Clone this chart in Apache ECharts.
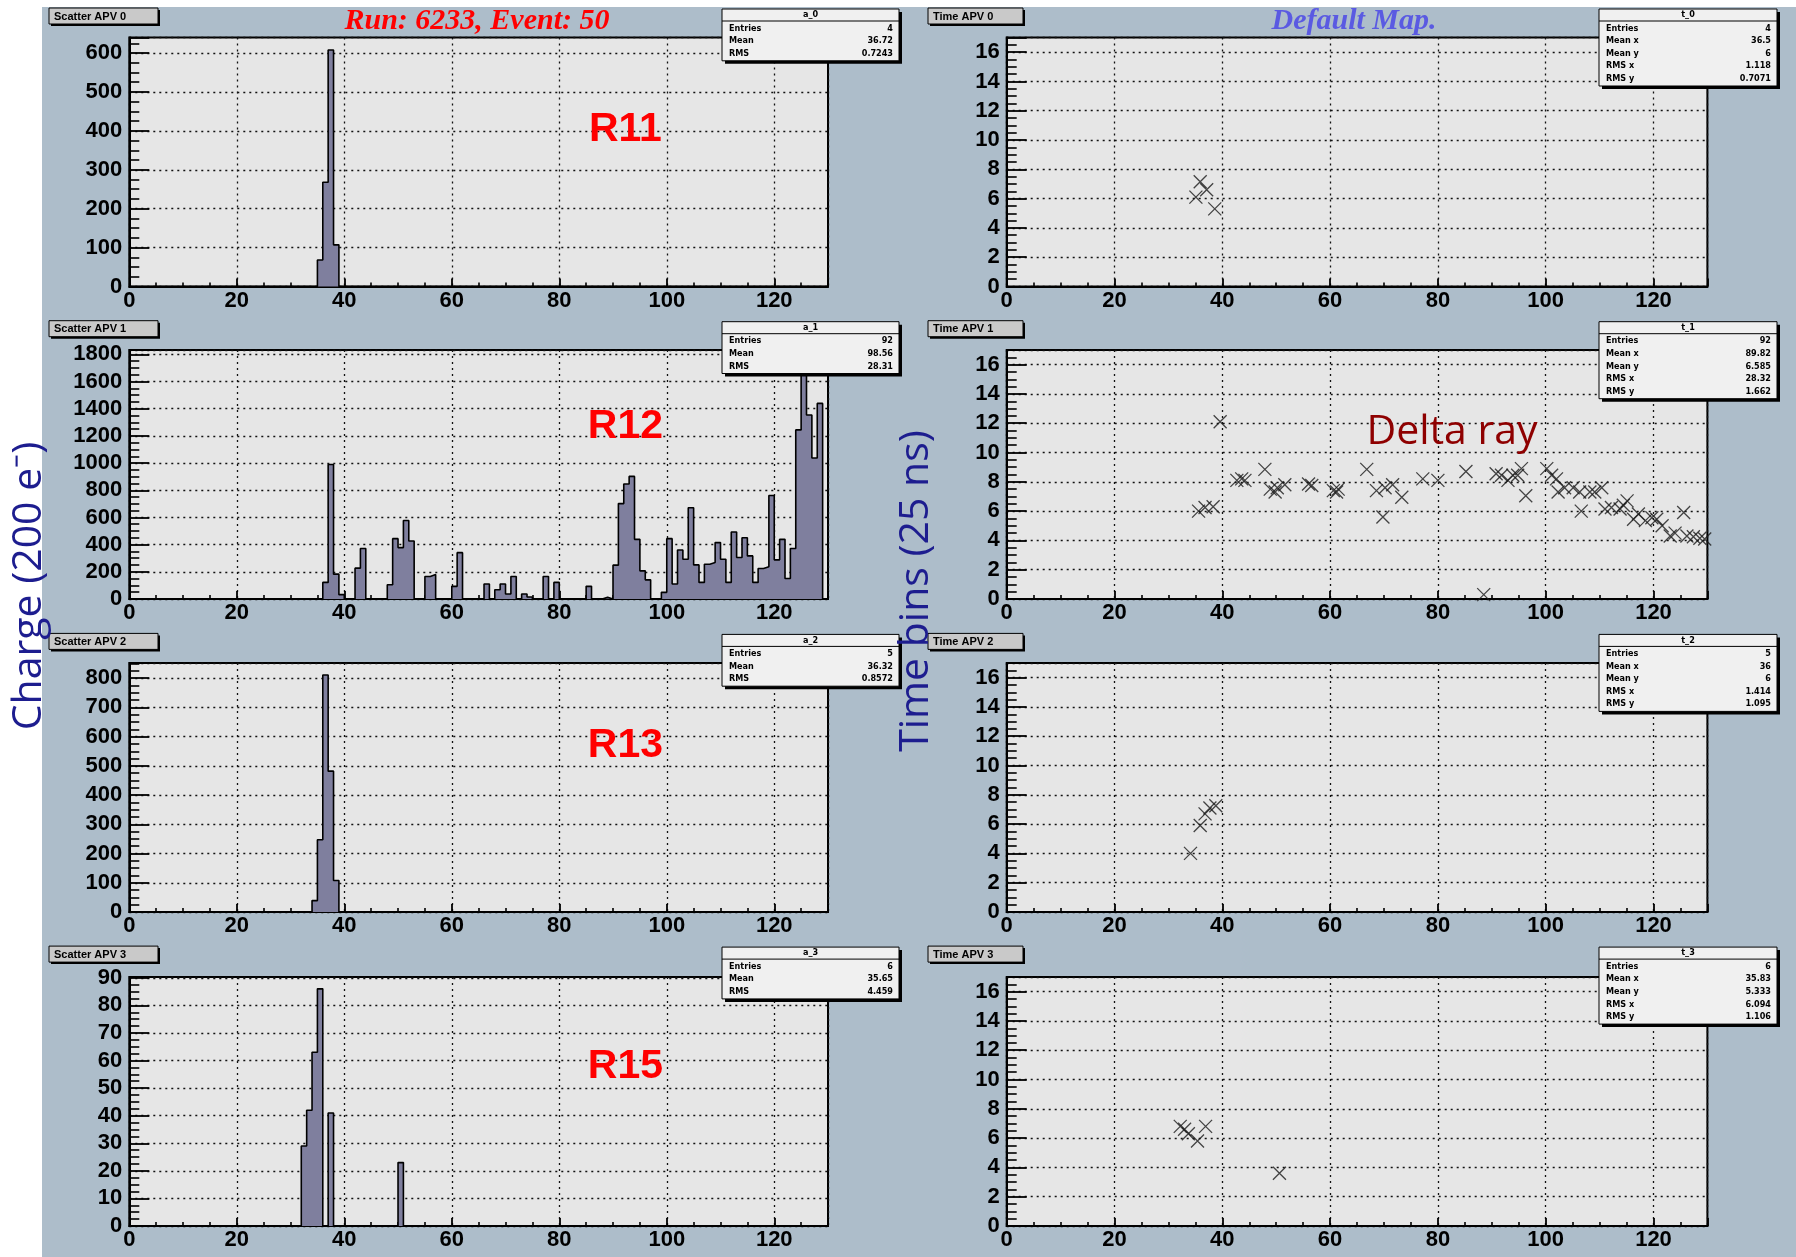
<!DOCTYPE html>
<html>
<head>
<meta charset="utf-8">
<script src="https://cdn.jsdelivr.net/npm/echarts/dist/echarts.min.js"></script>
<style>
  html, body { margin: 0; padding: 0; background: #ffffff; }
  #chart { width: 1796px; height: 1257px; }
</style>
</head>
<body>
<div id="chart"></div>
<script>
// ---- event data: APV charge per strip (channel, charge) and time-bin hits ----
const N_CHANNELS = 130;

const R11_CHARGE = [[35, 68], [36, 268], [37, 608], [38, 107]];
const R12_CHARGE = [
  [36, 122], [37, 990], [38, 183], [39, 32], [42, 227], [43, 371],
  [48, 105], [49, 444], [50, 378], [51, 578], [52, 427], [55, 166], [56, 180],
  [60, 93], [61, 341], [66, 110], [68, 68], [69, 110], [70, 37], [71, 166],
  [73, 37], [74, 15], [77, 166], [79, 122], [85, 93], [88, 12],
  [90, 249], [91, 702], [92, 846], [93, 902], [94, 439], [95, 207], [96, 141],
  [99, 49], [100, 444], [101, 110], [102, 361], [103, 293], [104, 671], [105, 251],
  [106, 122], [107, 256], [108, 268], [109, 415], [110, 293], [111, 122], [112, 493],
  [113, 305], [114, 451], [115, 317], [116, 122], [117, 224], [118, 237], [119, 761],
  [120, 288], [121, 439], [122, 151], [123, 371], [124, 1244], [125, 1745], [126, 1354],
  [127, 1037], [128, 1439]
];
const R13_CHARGE = [[34, 39], [35, 247], [36, 811], [37, 482], [38, 108]];
const R15_CHARGE = [[32, 29], [33, 42], [34, 63], [35, 86], [37, 41], [50, 23]];

const R11_TIME = [[35.9, 7.15], [37.1, 6.6], [35.1, 6.1], [38.6, 5.3]];
const R12_TIME = [
  [39.6, 12.1], [35.6, 6.0], [36.8, 6.25], [38.3, 6.3],
  [42.7, 8.1], [43.6, 8.2], [44.2, 8.1],
  [47.9, 8.85], [48.9, 7.5], [49.8, 7.3], [50.2, 7.6], [51.6, 7.8],
  [56.0, 7.85], [56.6, 7.75], [60.6, 7.4], [61.2, 7.3], [61.5, 7.5],
  [66.8, 8.85], [68.6, 7.4], [70.2, 7.6], [69.8, 5.6], [71.6, 7.8], [73.3, 6.95],
  [77.2, 8.2], [80.0, 8.1], [85.2, 8.7], [88.5, 0.3],
  [90.8, 8.55], [91.8, 8.45], [93.0, 8.1], [93.9, 8.45], [94.8, 8.45], [95.5, 8.9], [96.3, 7.05],
  [100.2, 8.9], [101.1, 8.45], [102.0, 8.2], [102.3, 7.3], [103.5, 7.6], [105.1, 7.6],
  [106.3, 7.3], [106.6, 6.0], [108.2, 7.3], [109.1, 7.3], [110.4, 7.6],
  [111.0, 6.15], [112.2, 6.25], [113.8, 6.15], [114.4, 6.4], [115.1, 6.7],
  [116.3, 5.45], [117.2, 5.8], [118.5, 5.35], [119.7, 5.55], [120.6, 5.45],
  [121.6, 5.0], [123.1, 4.3], [124.0, 4.5], [125.6, 5.9], [126.2, 4.3],
  [127.4, 4.25], [128.6, 4.15], [129.5, 4.1]
];
const R13_TIME = [[34.1, 4.0], [35.9, 5.9], [36.8, 6.7], [37.7, 7.1], [38.8, 7.25]];
const R15_TIME = [[32.2, 6.8], [33.0, 6.6], [33.7, 6.3], [35.4, 5.8], [36.9, 6.8], [50.6, 3.6]];

const CHARGE_SERIES = [R11_CHARGE, R12_CHARGE, R13_CHARGE, R15_CHARGE];
const TIME_SERIES = [R11_TIME, R12_TIME, R13_TIME, R15_TIME];

// axis ranges and tick steps
const X_TICK_STEP = 20;
const CHARGE_MAX = [640, 1832, 852, 90.3];
const CHARGE_TICK_STEP = [100, 200, 100, 10];
const TIME_MAX = 17;
const TIME_TICK_STEP = 2;

// texts
const RUN_TITLE = 'Run: 6233, Event: 50';
const MAP_TITLE = 'Default Map.';
const READOUT_LABELS = ['R11', 'R12', 'R13', 'R15'];
const SCATTER_TITLES = ['Scatter APV 0', 'Scatter APV 1', 'Scatter APV 2', 'Scatter APV 3'];
const TIME_TITLES = ['Time APV 0', 'Time APV 1', 'Time APV 2', 'Time APV 3'];
const CHARGE_STATS = [
  ['a_0', [['Entries', '4'], ['Mean', '36.72'], ['RMS', '0.7243']]],
  ['a_1', [['Entries', '92'], ['Mean', '98.56'], ['RMS', '28.31']]],
  ['a_2', [['Entries', '5'], ['Mean', '36.32'], ['RMS', '0.8572']]],
  ['a_3', [['Entries', '6'], ['Mean', '35.65'], ['RMS', '4.459']]]
];
const TIME_STATS = [
  ['t_0', [['Entries', '4'], ['Mean x', '36.5'], ['Mean y', '6'], ['RMS x', '1.118'], ['RMS y', '0.7071']]],
  ['t_1', [['Entries', '92'], ['Mean x', '89.82'], ['Mean y', '6.585'], ['RMS x', '28.32'], ['RMS y', '1.662']]],
  ['t_2', [['Entries', '5'], ['Mean x', '36'], ['Mean y', '6'], ['RMS x', '1.414'], ['RMS y', '1.095']]],
  ['t_3', [['Entries', '6'], ['Mean x', '35.83'], ['Mean y', '5.333'], ['RMS x', '6.094'], ['RMS y', '1.106']]]
];
const CHARGE_AXIS_NAME = 'Charge (200 e\u207B)';
const TIME_AXIS_NAME = 'Time bins (25 ns)';
const DELTA_LABEL = 'Delta ray';

// ---- layout ----
const PANEL_BG = '#adbdca';
const FRAME_BG = '#e6e6e6';
const ROW_TOPS = [37.5, 350, 663, 977];
const ROW_PITCH = 312.7;
const PLOT_H = 249;
const LEFT_X = 129.3, LEFT_W = 698.7;
const RIGHT_X = 1006.7, RIGHT_W = 700.7;
const AXIS_FONT = '"Liberation Sans", Arial, sans-serif';
const TOP_Z = 50;

// full histogram outline points from sparse (channel, value) pairs
function histogramPoints(pairs) {
  const bins = new Array(N_CHANNELS).fill(0);
  pairs.forEach(([ch, v]) => { bins[ch] = v; });
  const pts = bins.map((v, i) => [i, v]);
  pts.push([N_CHANNELS, 0]);
  return pts;
}

function xAxis(gridIndex) {
  return {
    type: 'value', gridIndex, min: 0, max: N_CHANNELS, interval: X_TICK_STEP,
    axisLine: { show: true, onZero: false, lineStyle: { color: '#000', width: 2 } },
    axisTick: { show: true, inside: true, length: 8, lineStyle: { color: '#000', width: 1.8 } },
    minorTick: { show: true, splitNumber: 4, length: 4, lineStyle: { color: '#000', width: 1.6 } },
    splitLine: { show: true, lineStyle: { color: '#111', width: 1.3, type: [2, 4] } },
    axisLabel: { showMaxLabel: false, color: '#000', fontFamily: AXIS_FONT, fontWeight: 'bold', fontSize: 22, margin: 3,
      formatter: v => String(v) }
  };
}

function yAxis(gridIndex, max, step) {
  return {
    type: 'value', gridIndex, min: 0, max, interval: step,
    axisLine: { show: true, onZero: false, lineStyle: { color: '#000', width: 2 } },
    axisTick: { show: true, inside: true, length: 20, lineStyle: { color: '#000', width: 1.8 } },
    minorTick: { show: true, splitNumber: 4, length: 10, lineStyle: { color: '#000', width: 1.6 } },
    splitLine: { show: true, lineStyle: { color: '#111', width: 1.3, type: [2, 4] } },
    axisLabel: { showMaxLabel: false, color: '#000', fontFamily: AXIS_FONT, fontWeight: 'bold', fontSize: 22, margin: 7,
      formatter: v => String(v) }
  };
}

const grids = [], xAxes = [], yAxes = [], series = [];
for (let k = 0; k < 4; k++) {
  grids.push({ left: LEFT_X, top: ROW_TOPS[k], width: LEFT_W, height: PLOT_H, show: true,
    backgroundColor: FRAME_BG, borderColor: '#000', borderWidth: 2 });
  xAxes.push(xAxis(k));
  yAxes.push(yAxis(k, CHARGE_MAX[k], CHARGE_TICK_STEP[k]));
  series.push({
    type: 'line', xAxisIndex: k, yAxisIndex: k, step: 'end',
    data: histogramPoints(CHARGE_SERIES[k]),
    symbol: 'none', showSymbol: false, silent: true,
    lineStyle: { color: '#000', width: 1.6 },
    areaStyle: { color: '#7f7f9e', opacity: 1 },
    z: 3
  });
}
for (let k = 0; k < 4; k++) {
  const g = 4 + k;
  grids.push({ left: RIGHT_X, top: ROW_TOPS[k], width: RIGHT_W, height: PLOT_H, show: true,
    backgroundColor: FRAME_BG, borderColor: '#000', borderWidth: 2 });
  xAxes.push(xAxis(g));
  yAxes.push(yAxis(g, TIME_MAX, TIME_TICK_STEP));
  series.push({
    type: 'scatter', xAxisIndex: g, yAxisIndex: g,
    data: TIME_SERIES[k],
    symbol: 'path://M0,0L10,10M10,0L0,10', symbolSize: 13, silent: true,
    itemStyle: { color: 'rgba(0,0,0,0)', borderColor: '#1a1a1a', borderWidth: 1.3 },
    z: 3
  });
}

// ROOT style statistics box
function statsBox(x, y, w, name, rows) {
  const headH = 12, rowH = 12.6;
  const h = headH + rows.length * rowH + 2;
  const font = 'bold 9px "DejaVu Sans Condensed", "DejaVu Sans", sans-serif';
  const children = [
    { type: 'rect', z: TOP_Z, shape: { x: x + 3, y: y + 3, width: w, height: h }, style: { fill: '#000' } },
    { type: 'rect', z: TOP_Z, shape: { x, y, width: w, height: h }, style: { fill: '#f0f0f0', stroke: '#000', lineWidth: 1 } },
    { type: 'line', z: TOP_Z, shape: { x1: x, y1: y + headH, x2: x + w, y2: y + headH }, style: { stroke: '#000', lineWidth: 1 } },
    { type: 'text', z: TOP_Z, x: x + w / 2, y: y + headH / 2, style: { text: name, fill: '#000', font, align: 'center', verticalAlign: 'middle' } }
  ];
  rows.forEach(([k, v], i) => {
    const ty = y + headH + rowH * (i + 0.5) + 1;
    children.push({ type: 'text', z: TOP_Z, x: x + 7, y: ty, style: { text: k, fill: '#000', font, align: 'left', verticalAlign: 'middle' } });
    children.push({ type: 'text', z: TOP_Z, x: x + w - 6, y: ty, style: { text: v, fill: '#000', font, align: 'right', verticalAlign: 'middle' } });
  });
  return { type: 'group', children };
}

// pad title label box
function titleBox(x, y, w, text) {
  return {
    type: 'group', children: [
      { type: 'rect', z: TOP_Z, shape: { x: x + 2, y: y + 2, width: w, height: 16 }, style: { fill: '#000' } },
      { type: 'rect', z: TOP_Z, shape: { x, y, width: w, height: 16 }, style: { fill: '#c9c9c9', stroke: '#000', lineWidth: 1 } },
      { type: 'text', z: TOP_Z, x: x + 5, y: y + 8.5, style: { text, fill: '#000', font: 'bold 11px "Liberation Sans", Arial, sans-serif', align: 'left', verticalAlign: 'middle' } }
    ]
  };
}

const graphics = [
  { type: 'rect', z: -10, shape: { x: 0, y: 0, width: 42, height: 1257 }, style: { fill: '#ffffff' } },
  { type: 'rect', z: -10, shape: { x: 0, y: 0, width: 1796, height: 7 }, style: { fill: '#ffffff' } }
];
for (let k = 0; k < 4; k++) {
  const dy = ROW_PITCH * k;
  graphics.push(titleBox(49, 8 + dy, 109, SCATTER_TITLES[k]));
  graphics.push(titleBox(928, 8 + dy, 95, TIME_TITLES[k]));
  graphics.push(statsBox(722, 9 + dy, 177, CHARGE_STATS[k][0], CHARGE_STATS[k][1]));
  graphics.push(statsBox(1599, 9 + dy, 178, TIME_STATS[k][0], TIME_STATS[k][1]));
}
const READOUT_Y = [129.4, 427, 745.7, 1066.4];
READOUT_LABELS.forEach((t, k) => {
  graphics.push({ type: 'text', z: TOP_Z + 10, x: 625.4, y: READOUT_Y[k],
    style: { text: t, fill: '#ff0000', font: 'bold 41px "Liberation Sans", Arial, sans-serif', align: 'center', verticalAlign: 'middle' } });
});
graphics.push({ type: 'text', z: TOP_Z + 10, x: 477, y: 21,
  style: { text: RUN_TITLE, fill: '#ff0000', font: 'italic bold 30px "Liberation Serif", serif', align: 'center', verticalAlign: 'middle' } });
graphics.push({ type: 'text', z: TOP_Z + 10, x: 1354, y: 21,
  style: { text: MAP_TITLE, fill: '#5a5ae2', font: 'italic bold 30px "Liberation Serif", serif', align: 'center', verticalAlign: 'middle' } });
graphics.push({ type: 'text', z: TOP_Z + 10, x: 1452, y: 432,
  style: { text: DELTA_LABEL, fill: '#8e0000', font: '41px "Open Sans", sans-serif', align: 'center', verticalAlign: 'middle' } });
graphics.push({ type: 'text', z: TOP_Z + 10, x: 29, y: 586, rotation: Math.PI / 2,
  style: { text: CHARGE_AXIS_NAME, fill: '#1d1d8f', font: '41px "Open Sans", sans-serif', align: 'center', verticalAlign: 'middle' } });
graphics.push({ type: 'text', z: TOP_Z + 10, x: 916, y: 591, rotation: Math.PI / 2,
  style: { text: TIME_AXIS_NAME, fill: '#1d1d8f', font: '41px "Open Sans", sans-serif', align: 'center', verticalAlign: 'middle' } });

const chart = echarts.init(document.getElementById('chart'), null, { renderer: 'canvas', width: 1796, height: 1257 });
chart.setOption({
  animation: false,
  backgroundColor: PANEL_BG,
  grid: grids,
  xAxis: xAxes,
  yAxis: yAxes,
  series,
  graphic: { elements: graphics }
});
</script>
</body>
</html>
